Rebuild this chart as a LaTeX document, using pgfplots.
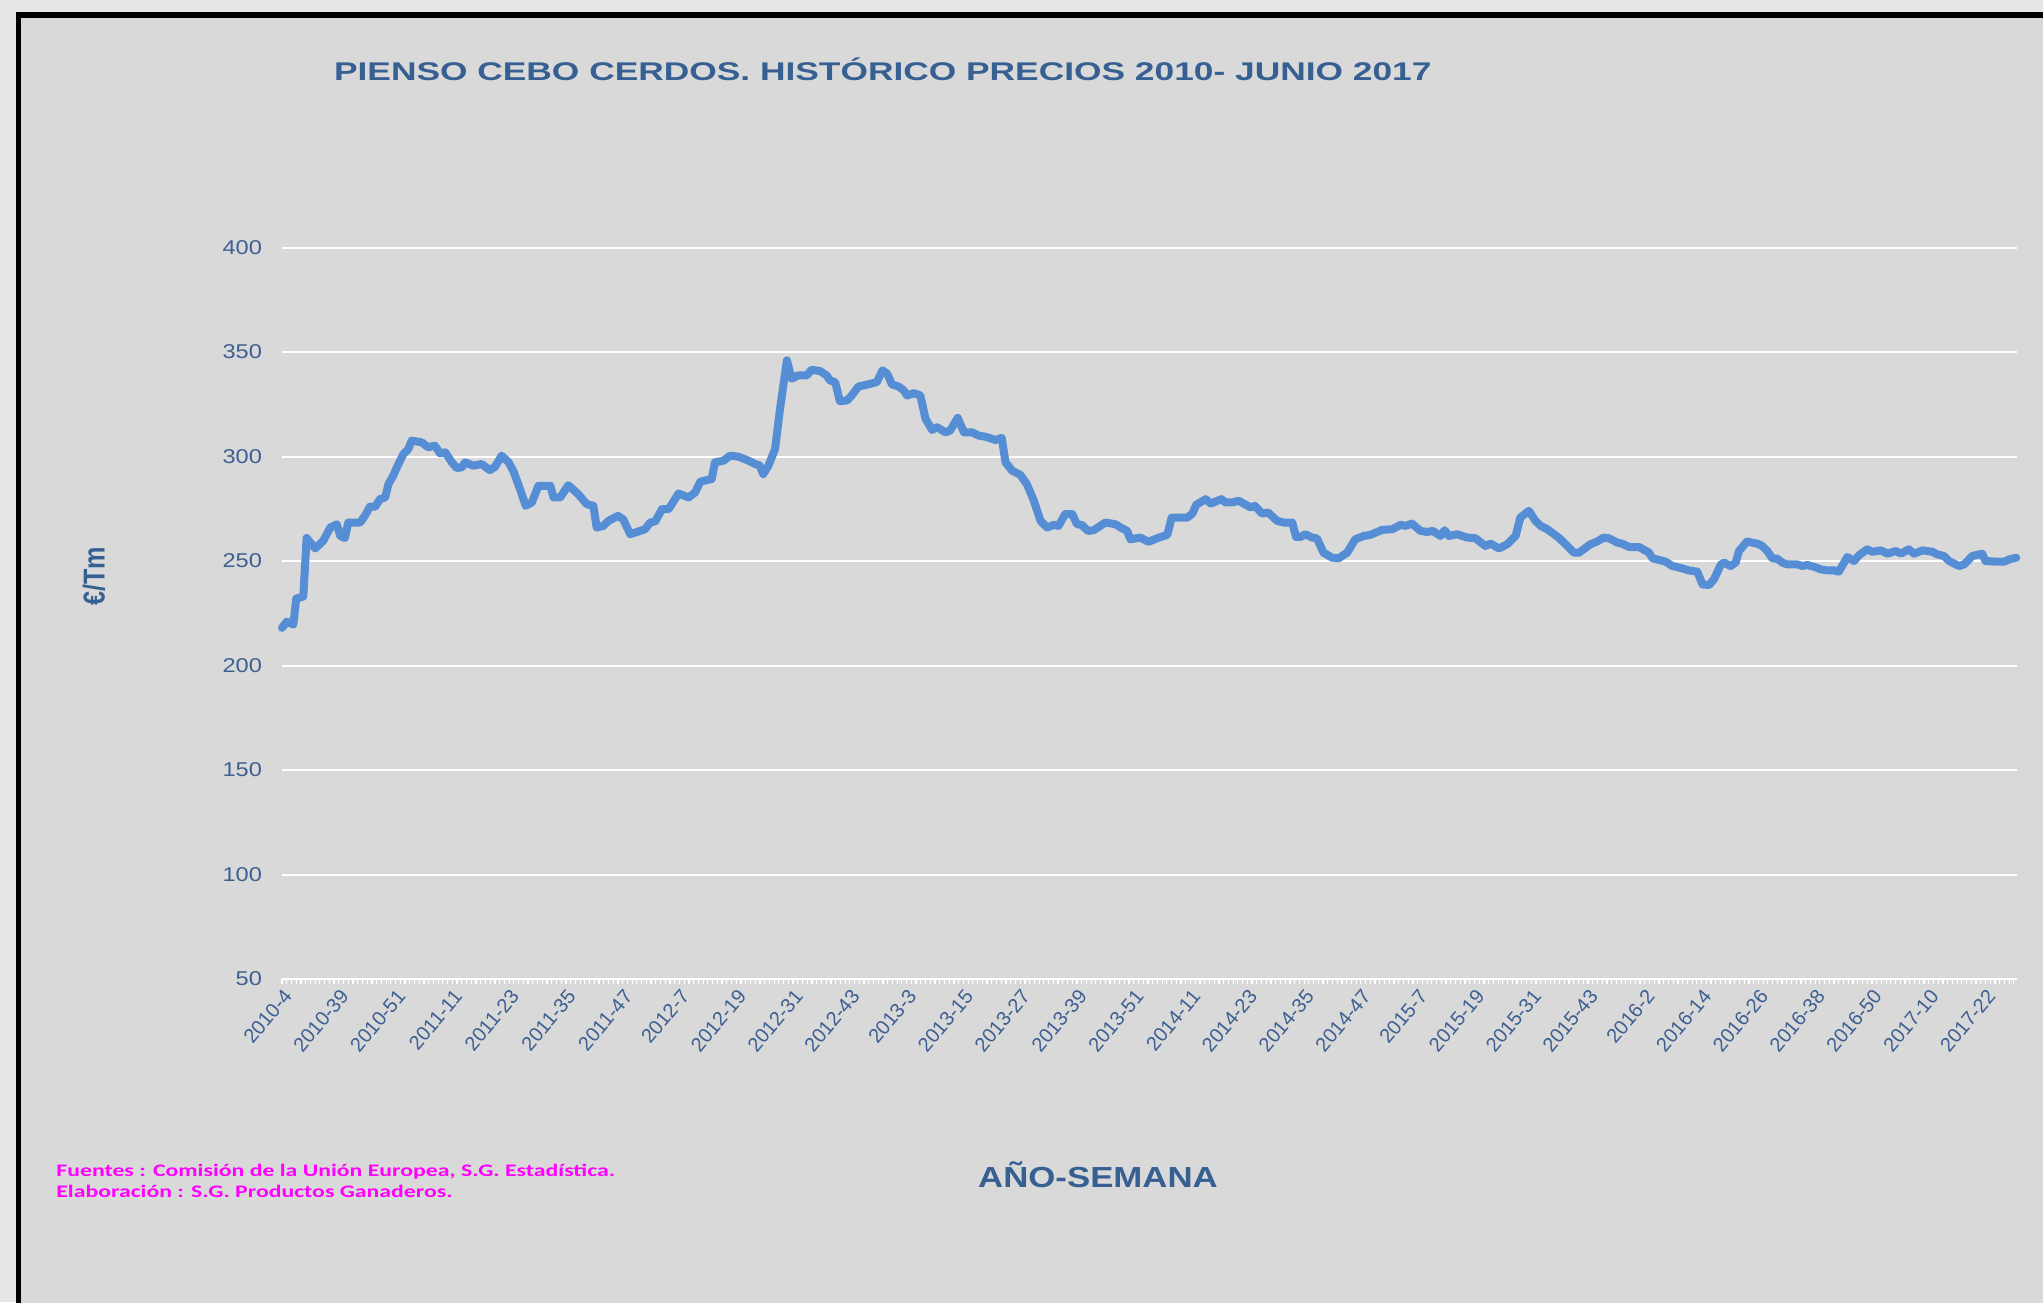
\documentclass[border=0pt]{standalone}
\usepackage{pgfplots}
\pgfplotsset{compat=1.18}
\usepackage{fontspec}
\setmainfont{Liberation Sans}
\newfontfamily\carlito{Carlito}
\definecolor{bgout}{HTML}{E6E6E6}
\definecolor{bgin}{HTML}{D9D9D9}
\definecolor{titleblue}{HTML}{376092}
\definecolor{tickblue}{HTML}{3D5F91}
\definecolor{lineblue}{HTML}{558ED5}
\definecolor{footmag}{HTML}{FF00FF}
\pgfplotstableread{
x y
0 218
1 221
2.4 219.6
3 232
4.5 233
5.2 261
7 256
8.7 259.6
10.2 266
11.6 267.6
12.3 262
13.3 261
14 268.4
16.5 268.4
17.5 271.6
18.6 276
19.7 276
20.7 279.6
21.8 280.4
22.5 286.8
23.5 290.8
24.6 296.4
25.6 301
26.7 303.6
27.4 307.6
29.5 306.8
30.9 304.4
32.3 305.2
33.4 301.5
34.5 302
35.9 297.2
36.9 294.5
38 294.8
38.7 297.2
40.4 295.6
42.2 296.4
43.9 293.5
45 295
46.4 300.4
47.9 297.2
48.9 293
50.3 284.4
51.5 276.4
52.8 278
54.2 286
56.7 286
57.4 280.4
58.8 280.4
60.5 286.3
62.6 282
64.4 277.2
65.8 276.4
66.5 266
67.9 266.8
69 269.2
71 271.6
72.1 270
73.6 262.8
76.7 265.2
77.8 268.4
78.9 269
80.3 274.8
81.7 274.8
83.8 282.3
85.9 280.4
87.3 282.8
88.4 288
90.8 289.2
91.5 297.2
93.3 298
94.7 300.4
96.5 299.9
98.6 298
100 296.4
100.9 295.8
101.7 291.6
102.8 295.6
104.2 303.6
105.2 322
106.7 346
107.7 337.2
109.1 338.8
110.9 338.8
111.9 341.5
113.7 340.9
115.1 338.8
115.8 336.4
116.9 335.6
117.9 326.5
119.4 326.8
120.4 329.2
121.8 333.5
122.9 334
125.7 335.6
126.9 341.2
127.9 339.6
128.9 334.5
130.3 333.5
131.4 331.6
132.1 329.2
133.5 330.3
134.9 329.2
136 318
137.4 312.7
138.4 314
140.2 311.6
141.2 312.4
142.8 318.5
144.1 311.6
145.8 311.6
147.2 310
148.6 309.5
150.8 307.9
152.1 308.9
152.9 297.2
154.3 293.2
156 291.3
157.4 286.8
158.9 278.8
160.3 269.2
161.7 266
163.1 267.3
164.1 266.8
165.5 272.4
167 272.4
168 267.6
169 267.3
170.3 264.4
171.5 264.7
174 268.4
176.1 267.6
177.5 265.7
178.6 264.4
179.3 260.4
181.4 261.2
183.1 259.2
185.3 261.2
187.1 262.5
188 270.8
191.3 270.8
192.4 272.7
193.2 276.9
195.2 279.6
196.3 277.5
198.5 279.6
199.4 278
200.8 278
202.2 278.8
203.7 276.9
204.7 275.6
205.6 276.4
207.1 272.7
208.4 273.2
210.3 269.2
211.7 268.4
213.5 268.4
214.3 261.5
215.2 261.5
216.3 262.8
217.7 261.2
218.7 260.9
220.1 254
221.9 251.6
223.3 251.3
225.1 254
226.8 260.4
228.6 262
230 262.5
232.5 264.9
234.6 265.2
236.4 267.3
237.4 266.8
238.8 267.9
240.6 264.4
242 263.9
243.2 264.4
244.8 262
245.7 264.7
246.6 262
248.3 262.8
250.5 261.2
252.2 260.9
254.3 257.2
255.4 258.3
257.2 256
258.9 258
260.7 262
261.7 270.8
263.5 274
264.9 269.2
266 266.8
267.4 265.2
269.8 261.2
271.6 257.2
273 254
274.1 254
276.5 258
277.9 259.3
279.3 261.2
280.4 260.9
282.2 258.8
283.2 258.3
284.7 256.7
286.8 256.7
288.9 254
289.6 251.3
292.4 249.7
293.8 247.6
295.9 246.5
297.3 245.5
299.1 244.9
300.2 238.8
301.6 238.5
302.6 241.2
304.1 248.4
304.8 249.2
306.1 247.6
307.2 249.2
307.9 254.8
309.6 259.3
311.8 258.3
312.8 257.2
313.9 254.8
314.9 251.3
316 251.1
317.1 249.2
318.1 248.4
320.2 248.4
321.3 247.6
322.3 248.1
323.8 247.2
325.2 246
326.6 245.5
328 245.5
329 244.9
330.8 251.9
332.2 250
333.3 252.8
335 255.6
336.1 254.4
337.9 255.1
339.3 253.5
341 254.8
342.1 253.5
343.8 255.6
344.9 253.5
346.7 255.1
348.8 254.4
349.8 253.2
351.2 252.4
352.3 250
354.4 247.6
355.5 248.4
357.2 252.4
359.3 253.5
360 250
362.2 249.7
364 249.7
365 250.8
366.5 251.6
}\pricedata
\begin{document}
\begin{tikzpicture}
\useasboundingbox (0,0) rectangle (1021.5pt,-651pt);
\fill[bgout] (0,0) rectangle (1021.5pt,-651pt);
\fill[bgin] (9.25pt,-7.5pt) rectangle (1030pt,-660pt);
\draw[black, line width=2.8pt] (9.25pt,-660pt) -- (9.25pt,-7.5pt) -- (1030pt,-7.5pt);
\begin{axis}[
 at={(141pt,-489.5pt)}, anchor=south west,
 scale only axis, width=867.35pt, height=365.75pt,
 xmin=0, xmax=366.6, ymin=50, ymax=400,
 axis x line*=bottom, axis y line*=left,
 y axis line style={draw=none},
 x axis line style={white, line width=1pt},
 ymajorgrids, major grid style={white, line width=1pt},
 ytick={50,100,...,400},
 xtick={0,12,...,360},
 minor xtick={0,1,...,366},
 tick align=outside,
 every tick/.style={white, line width=0.6pt},
 ytick style={draw=none},
 major tick length=2.5pt, minor tick length=2.5pt,
 xticklabels={2010-4,2010-39,2010-51,2011-11,2011-23,2011-35,2011-47,2012-7,2012-19,2012-31,2012-43,2013-3,2013-15,2013-27,2013-39,2013-51,2014-11,2014-23,2014-35,2014-47,2015-7,2015-19,2015-31,2015-43,2016-2,2016-14,2016-26,2016-38,2016-50,2017-10,2017-22},
 xticklabel style={rotate=50, anchor=east, font=\fontsize{10}{10}\selectfont, text=tickblue, yshift=-5pt, xshift=2pt},
 yticklabel style={font=\fontsize{10}{10}\selectfont, text=tickblue, xshift=-4pt},
 yticklabel={\scalebox{1.18}[1]{\pgfmathprintnumber{\tick}}},
 /pgf/number format/assume math mode=true,
 clip=false,
]
\addplot[lineblue, line width=4pt, line join=round, line cap=round] table[x=x, y=y] {\pricedata};
\end{axis}
\node[font=\bfseries\fontsize{12.8}{12.8}\selectfont, text=titleblue] at (441.4pt,-34.5pt) {\scalebox{1.38}[1]{PIENSO CEBO CERDOS. HISTÓRICO PRECIOS 2010- JUNIO 2017}};
\node[rotate=90, font=\bfseries\fontsize{12.6}{12.6}\selectfont, text=titleblue] at (47pt,-288pt) {\scalebox{1}[1.2]{€/Tm}};
\node[font=\bfseries\fontsize{14.5}{14.5}\selectfont, text=titleblue] at (549pt,-587.5pt) {\scalebox{1.2}[1]{AÑO-SEMANA}};
\node[anchor=west, inner sep=0pt, font=\carlito\bfseries\fontsize{8.8}{10.5}\selectfont, text=footmag] at (28pt,-591.25pt) {\scalebox{1.35}[1]{\begin{tabular}{@{}l@{}}Fuentes : Comisión de la Unión Europea, S.G. Estadística.\\ Elaboración : S.G. Productos Ganaderos.\end{tabular}}};
\end{tikzpicture}
\end{document}
